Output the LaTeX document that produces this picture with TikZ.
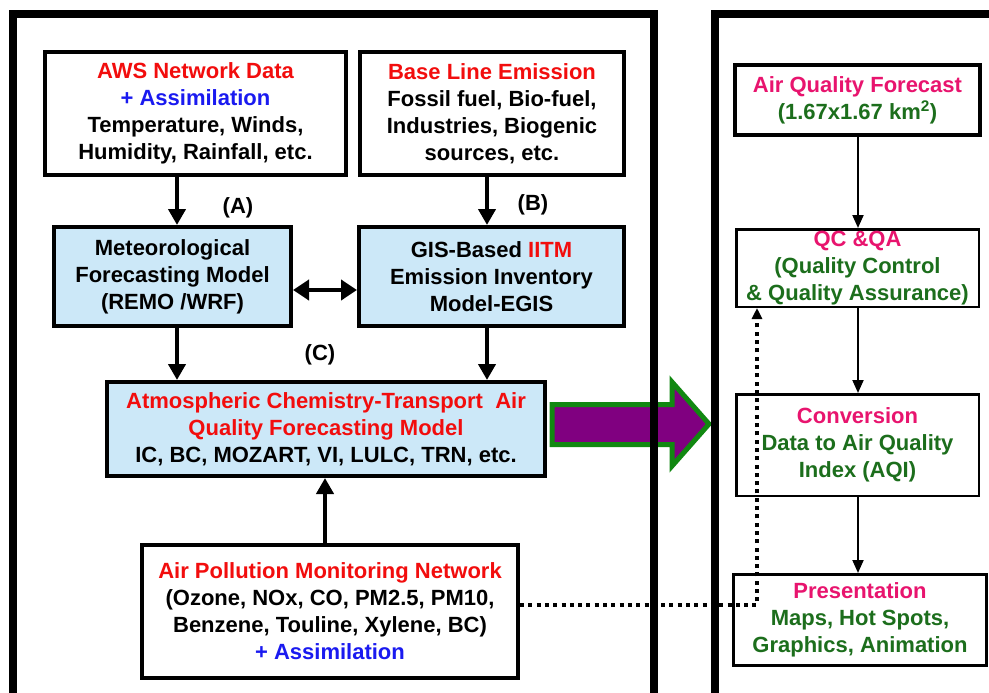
\documentclass[tikz,border=0pt]{standalone}
\usepackage{fontspec}
\setmainfont{Liberation Sans}
\usetikzlibrary{arrows.meta}

\definecolor{aqred}{HTML}{F20D0D}
\definecolor{aqblue}{HTML}{1A1AF0}
\definecolor{aqpink}{HTML}{E8146E}
\definecolor{aqgreen}{HTML}{1C6E1C}
\definecolor{modelfill}{HTML}{CCE8F8}
\definecolor{bigpurple}{HTML}{800080}
\definecolor{bigedge}{HTML}{118811}

\tikzset{
	txt/.style={font=\fontsize{22}{27}\selectfont\bfseries, align=center},
	inbox/.style={txt, draw, line width=4pt, fill=white, inner sep=0pt},
	modelbox/.style={inbox, fill=modelfill},
	outbox/.style={txt, draw, line width=2.5pt, fill=white, inner sep=0pt},
	flow/.style={line width=4pt, -{Triangle[length=16pt,width=17pt]}},
	stepflow/.style={line width=2pt, -{Triangle[length=13pt,width=11pt]}},
}

\begin{document}
\begin{tikzpicture}[x=1pt, y=-1pt]
		\useasboundingbox (0,0) rectangle (989,693);
		
		% big output arrow, under the panel frames
		\draw [draw=bigedge, line width=5pt, fill=bigpurple, line join=miter]
		(552,404.5) -- (672,404.5) -- (672,382) -- (709,424) -- (672,466) -- (672,444.5) -- (552,444.5) -- cycle;
		
		% panel frames
		\draw [line width=8pt, line join=miter] (13,693) -- (13,14) -- (654,14) -- (654,693);
		\draw [line width=8pt, line join=miter] (715,693) -- (715,14) -- (989,14);
		
		% left panel
		\node [inbox, minimum width=301pt, minimum height=123pt] (aws) at (195.5,113.5)
		{\textcolor{aqred}{AWS Network Data}\\ \textcolor{aqblue}{+ Assimilation}\\ Temperature, Winds,\\ Humidity, Rainfall, etc.};
		\node [inbox, minimum width=264pt, minimum height=123pt] (base) at (492,113.5)
		{\textcolor{aqred}{Base Line Emission}\\ Fossil fuel, Bio-fuel,\\ Industries, Biogenic\\ sources, etc.};
		\node [modelbox, minimum width=237pt, minimum height=99pt] (met) at (172.5,276.5)
		{Meteorological\\ Forecasting Model\\ (REMO /WRF)};
		\node [modelbox, minimum width=265pt, minimum height=99pt] (gis) at (491.5,276.5)
		{GIS-Based \textcolor{aqred}{IITM}\\ Emission Inventory\\ Model-EGIS};
		\node [modelbox, minimum width=438pt, minimum height=94pt] (act) at (326,429)
		{\textcolor{aqred}{Atmospheric Chemistry-Transport\ \ Air}\\ \textcolor{aqred}{Quality Forecasting Model}\\ IC, BC, MOZART, VI, LULC, TRN, etc.};
		\node [inbox, minimum width=376pt, minimum height=133pt] (apm) at (330,611.5)
		{\textcolor{aqred}{Air Pollution Monitoring Network}\\ (Ozone, NOx, CO, PM2.5, PM10,\\ Benzene, Touline, Xylene, BC)\\ \textcolor{aqblue}{+ Assimilation}};
		
		\node [txt] (lblA) at (238,208) {(A)};
		\node [txt] (lblB) at (533,205) {(B)};
		\node [txt] (lblC) at (320,355) {(C)};
		
		\draw [flow] (aws.south -| 177,0) -- (met.north -| 177,0);
		\draw [flow] (base.south -| 487,0) -- (gis.north -| 487,0);
		\draw [flow] (met.south -| 177,0) -- (act.north -| 177,0);
		\draw [flow] (gis.south -| 487,0) -- (act.north -| 487,0);
		\draw [flow, {Triangle[length=16pt,width=20pt]}-{Triangle[length=16pt,width=20pt]}] (met.east |- 0,290) -- (gis.west |- 0,290);
		\draw [flow] (apm.north -| 325,0) -- (act.south -| 325,0);
		
		% right panel
		\node [inbox, minimum width=245pt, minimum height=70pt] (aqf) at (857.5,100)
		{\textcolor{aqpink}{Air Quality Forecast}\\ \textcolor{aqgreen}{(1.67x1.67 km\textsuperscript{2})}};
		\node [outbox, minimum width=242.5pt, minimum height=77.5pt] (qc) at (857.5,268)
		{\textcolor{aqpink}{QC \&QA}\\ \textcolor{aqgreen}{(Quality Control}\\ \textcolor{aqgreen}{\& Quality Assurance)}};
		\node [outbox, minimum width=242.5pt, minimum height=101.5pt] (conv) at (857.5,445)
		{\textcolor{aqpink}{Conversion}\\ \textcolor{aqgreen}{Data to Air Quality}\\ \textcolor{aqgreen}{Index (AQI)}};
		\node [outbox, line width=3pt, minimum width=253pt, minimum height=91pt] (pres) at (860,620)
		{\textcolor{aqpink}{Presentation}\\ \textcolor{aqgreen}{Maps, Hot Spots,}\\ \textcolor{aqgreen}{Graphics, Animation}};
		
		\draw [stepflow] (aqf.south -| 858,0) -- (qc.north -| 858,0);
		\draw [stepflow] (qc.south -| 858,0) -- (conv.north -| 858,0);
		\draw [stepflow] (conv.south -| 858,0) -- (pres.north -| 858,0);
		
		% monitoring data straight to QC
		\draw [line width=3.5pt, dash pattern=on 4pt off 4.3pt, -{Triangle[length=11pt,width=10pt]}]
		(apm.east |- 0,605) -- (757,605) -- (qc.south -| 757,0);
		
\end{tikzpicture}
\end{document}
